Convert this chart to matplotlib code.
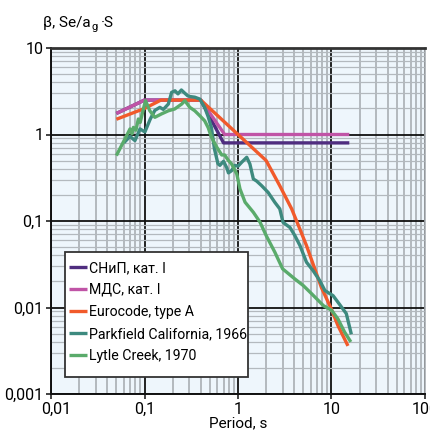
import matplotlib
matplotlib.use("Agg")
import matplotlib.pyplot as plt
from matplotlib.patches import Rectangle
from matplotlib.ticker import FixedLocator, FuncFormatter, NullFormatter
from matplotlib.transforms import ScaledTranslation

plt.rcParams['font.family'] = ['Roboto', 'DejaVu Sans']

# ---- data -------------------------------------------------------------
snip_T = [0.05, 0.1, 0.4, 0.7, 15.5]
snip_b = [1.75, 2.5, 2.5, 0.8, 0.8]

mds_T = [0.05, 0.1, 0.4, 0.72, 15.5]
mds_b = [1.75, 2.5, 2.5, 1.0, 1.0]

euro_T = [0.05, 0.1, 0.15, 0.4, 1.0, 2.0, 2.8, 3.75, 4.5, 5.4, 6.7, 7.8, 8.9, 10.0, 11.7, 15.0]
euro_b = [1.5, 2.0, 2.5, 2.5, 1.0, 0.5, 0.255, 0.138, 0.085, 0.052, 0.027, 0.017, 0.0125,
          0.0095, 0.0062, 0.0036]

park_T = [0.06, 0.07, 0.079, 0.0895, 0.101, 0.115, 0.129, 0.146, 0.159, 0.18, 0.195, 0.212,
          0.228, 0.248, 0.27, 0.29, 0.305, 0.345, 0.39, 0.44, 0.48, 0.52, 0.56, 0.61, 0.64,
          0.70, 0.76, 0.79, 0.85, 0.93, 1.0, 1.1, 1.24, 1.34, 1.46, 1.58, 1.79, 2.1, 2.48,
          2.8, 3.03, 3.6, 4.05, 4.6, 5.4, 6.35, 7.5, 8.5, 10.4, 12.4, 14.4, 16.3]
park_b = [0.8, 0.95, 0.85, 1.16, 1.07, 1.5, 1.9, 2.06, 1.95, 2.25, 3.07, 3.2,
          2.95, 3.27, 3.0, 2.8, 2.75, 2.7, 2.57, 2.06, 1.6, 1.2, 0.68, 0.46, 0.44,
          0.49, 0.41, 0.36, 0.38, 0.44, 0.43, 0.48, 0.545, 0.456, 0.306, 0.29, 0.256, 0.214, 0.164,
          0.138, 0.0965, 0.084, 0.068, 0.052, 0.0334, 0.0267, 0.0204, 0.0157, 0.0137, 0.0106,
          0.0085, 0.0049]

lytle_T = [0.05, 0.0618, 0.07, 0.0735, 0.0761, 0.081, 0.0859, 0.09, 0.0973, 0.1025, 0.114,
           0.129, 0.152, 0.18, 0.21, 0.25, 0.27, 0.305, 0.345, 0.39, 0.44, 0.48, 0.52, 0.59,
           0.67, 0.72, 0.79, 0.85, 0.89, 0.97, 1.05, 1.19, 1.46, 1.72, 2.0, 2.48, 3.0, 4.05,
           4.97, 6.1, 8.2, 10.0, 11.7, 13.8, 16.1]
lytle_b = [0.57, 0.89, 1.16, 1.02, 1.21, 1.12, 1.51, 1.38, 1.97, 2.46, 1.88,
           1.58, 1.73, 1.88, 1.97, 2.25, 2.46, 2.06, 1.88, 1.65, 1.44, 1.2, 0.93, 0.72,
           0.58, 0.58, 0.5, 0.46, 0.42, 0.35, 0.235, 0.165, 0.126, 0.097, 0.068, 0.0435, 0.028,
           0.0214, 0.018, 0.0145, 0.0105, 0.0093, 0.0074, 0.0052, 0.004]

series = [
    ("СНиП, кат. I", snip_T, snip_b, "#4f2d7f"),
    ("МДС, кат. I", mds_T, mds_b, "#c054a6"),
    ("Eurocode, type A", euro_T, euro_b, "#f15a2b"),
    ("Parkfield California, 1966", park_T, park_b, "#3d8a7f"),
    ("Lytle Creek, 1970", lytle_T, lytle_b, "#5aab6b"),
]

x_ticks = [0.01, 0.1, 1, 10, 100]
y_ticks = [0.001, 0.01, 0.1, 1, 10]

# ---- figure -----------------------------------------------------------
W, H = 431, 434
fig = plt.figure(figsize=(W / 100, H / 100), dpi=100)
ax = fig.add_axes([51 / W, 1 - 394 / H, (425 - 51) / W, (394 - 48) / H])
ax.set_facecolor("#eef6fc")
ax.set_xscale("log")
ax.set_yscale("log")
ax.set_xlim(0.01, 100)
ax.set_ylim(0.001, 10)

def comma_fmt(v, pos):
    s = "%g" % v
    if "e" in s:
        s = ("%.3f" % v).rstrip("0")
    return s.replace(".", ",")

ax.xaxis.set_major_locator(FixedLocator(x_ticks))
ax.yaxis.set_major_locator(FixedLocator(y_ticks))
ax.xaxis.set_major_formatter(FuncFormatter(comma_fmt))
ax.yaxis.set_major_formatter(FuncFormatter(comma_fmt))
minors = [m * 10.0 ** e for e in range(-3, 2) for m in range(2, 10)]
ax.xaxis.set_minor_locator(FixedLocator(minors))
ax.yaxis.set_minor_locator(FixedLocator(minors))
ax.xaxis.set_minor_formatter(NullFormatter())
ax.yaxis.set_minor_formatter(NullFormatter())

ax.tick_params(which="major", direction="out", length=3.5, width=1.2, color="#222222",
               labelsize=11.5, pad=2)
ax.tick_params(which="minor", length=0)

ax.grid(which="minor", axis="x", color="#a9aeb3", lw=1.2, zorder=0)
ax.grid(which="minor", axis="y", color="#b3b9be", lw=0.9, zorder=0)
ax.grid(which="major", axis="both", color="#111111", lw=1.3, zorder=0.5)
ax.set_axisbelow(True)

for side in ("left", "bottom"):
    ax.spines[side].set_color("#111111")
    ax.spines[side].set_linewidth(1.4)
ax.spines["top"].set_color("#333333")
ax.spines["top"].set_linewidth(2)
ax.spines["right"].set_color("#a9aeb3")
ax.spines["right"].set_linewidth(1.2)

for label, T, b, color in series:
    ax.plot(T, b, color=color, lw=2.4, label=label, solid_capstyle="butt",
            solid_joinstyle="round", zorder=3)

# nudge the first x tick label away from the y labels
fig.canvas.draw()
xlabels = ax.get_xticklabels()
xlabels[0].set_transform(xlabels[0].get_transform() +
                         ScaledTranslation(5 / 100, 0, fig.dpi_scale_trans))

ax.set_xlabel("Period, s", fontsize=11, labelpad=0)

# legend: white box with the entries placed inside it
box = Rectangle((65 / W, 1 - 377 / H), (248 - 65) / W, (377 - 252) / H,
                transform=fig.transFigure, facecolor="white", edgecolor="#333333",
                lw=1.3, zorder=4, clip_on=False)
ax.add_patch(box)
leg = ax.legend(loc="upper left", bbox_to_anchor=(69 / W, 1 - 261 / H),
                bbox_transform=fig.transFigure, fontsize=10.2, frameon=False,
                handlelength=1.3, handletextpad=0.1, labelspacing=0.56,
                borderpad=0, borderaxespad=0)
leg.set_zorder(5)

# axis title with subscript g
fig.canvas.draw()
r = fig.canvas.get_renderer()
t1 = fig.text(43 / W, 1 - 27 / H, "β, Se/a", fontsize=11, ha="left", va="baseline")
bb = t1.get_window_extent(r)
t2 = fig.text((bb.x1 + 1) / W, 1 - 30 / H, "g", fontsize=8, ha="left", va="baseline")
bb2 = t2.get_window_extent(r)
fig.text((bb2.x1 + 3) / W, 1 - 27 / H, "·S", fontsize=11, ha="left", va="baseline")

fig.savefig("out.png", dpi=100)
